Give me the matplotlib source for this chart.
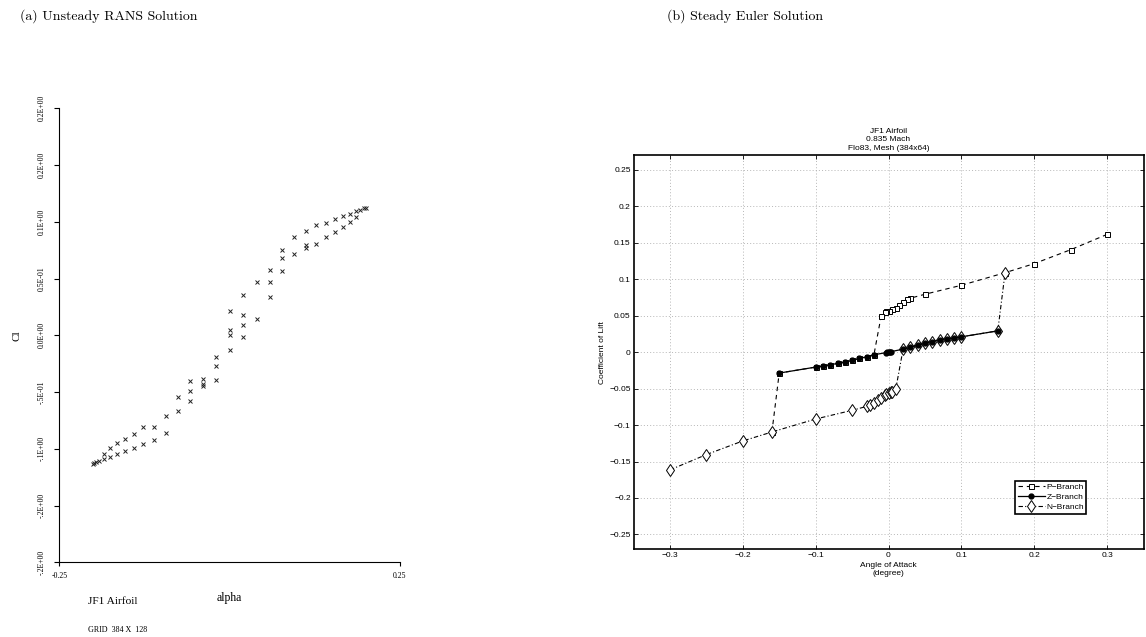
import matplotlib
matplotlib.use('Agg')
import matplotlib.pyplot as plt
from matplotlib.ticker import FuncFormatter

# (a) unsteady RANS, Cl vs alpha (hysteresis loop)
rans_alpha = [-0.201, -0.199, -0.196, -0.1912, -0.1843, -0.1843, -0.1759, -0.1759,
              -0.1656, -0.1656, -0.1534, -0.1534, -0.1406, -0.1406, -0.1265, -0.1265,
              -0.1103, -0.1103, -0.0931, -0.0931, -0.0759, -0.0759, -0.0574, -0.0574,
              -0.0574, -0.0382, -0.0382, -0.0382, -0.0191, -0.0191, -0.0191, 0.0006,
              0.0006, 0.0006, 0.0006, 0.0201, 0.0201, 0.0201, 0.0201, 0.0403, 0.0403,
              0.0588, 0.0588, 0.0588, 0.0775, 0.0775, 0.0775, 0.0951, 0.0951, 0.1118,
              0.1118, 0.1118, 0.1275, 0.1275, 0.1422, 0.1422, 0.1554, 0.1554, 0.1672,
              0.1672, 0.1775, 0.1775, 0.1863, 0.1863, 0.1922, 0.1971, 0.2010]
rans_cl = [-0.1130, -0.1124, -0.1115, -0.1106, -0.1047, -0.1094, -0.0991, -0.1071,
           -0.0950, -0.1047, -0.0915, -0.1018, -0.0871, -0.0991, -0.0809, -0.0962,
           -0.0809, -0.0921, -0.0712, -0.0862, -0.0544, -0.0665, -0.0403, -0.0491,
           -0.0579, -0.0383, -0.0432, -0.0447, -0.0191, -0.0271, -0.0394, 0.0214,
           0.0047, 0.0005, -0.0130, 0.0355, 0.0179, 0.0091, -0.0015, 0.0473, 0.0144,
           0.0576, 0.0470, 0.0338, 0.0752, 0.0679, 0.0564, 0.0870, 0.0714, 0.0922,
           0.0796, 0.0773, 0.0970, 0.0803, 0.0993, 0.0864, 0.1023, 0.0908, 0.1055,
           0.0953, 0.1073, 0.0997, 0.1094, 0.1041, 0.1105, 0.1120, 0.1125]
rans_yticks = [-0.2, -0.15, -0.1, -0.05, 0.0, 0.05, 0.1, 0.15, 0.2]
rans_ylabels = ['-.2E+00', '-.2E+00', '-.1E+00', '-.5E-01', '0.0E+00',
                '0.5E-01', '0.1E+00', '0.2E+00', '0.2E+00']

# (b) steady Euler, three branches
p_alpha = [0.3, 0.25, 0.2, 0.16, 0.1, 0.05, 0.03, 0.025, 0.02, 0.015, 0.01, 0.005,
           0.0, -0.003, -0.005, -0.01, -0.02, -0.03, -0.04, -0.05, -0.06, -0.07,
           -0.08, -0.09, -0.1, -0.15, -0.16]
p_cl = [0.1615, 0.1405, 0.1214, 0.109, 0.0917, 0.0794, 0.074, 0.0725, 0.069, 0.065,
        0.061, 0.059, 0.057, 0.056, 0.055, 0.050, -0.0036, -0.0064, -0.0087, -0.0114,
        -0.0137, -0.0155, -0.0173, -0.0192, -0.0205, -0.0287, -0.1095]

z_alpha = [-0.15, -0.1, -0.09, -0.08, -0.07, -0.06, -0.05, -0.04, -0.03, -0.02,
           -0.004, -0.002, 0.0, 0.002, 0.004, 0.02, 0.03, 0.04, 0.05, 0.06, 0.07,
           0.08, 0.09, 0.1, 0.15]
z_cl = [-0.0287, -0.0205, -0.0192, -0.0173, -0.0155, -0.0137, -0.0114, -0.0087,
        -0.0064, -0.0036, -0.0008, -0.0004, 0.0, 0.0004, 0.0008, 0.0041, 0.0068,
        0.0096, 0.0123, 0.0146, 0.0169, 0.0182, 0.0192, 0.021, 0.0292]

n_alpha = [-0.3, -0.25, -0.2, -0.16, -0.1, -0.05, -0.03, -0.025, -0.02, -0.015, -0.01,
           -0.005, -0.003, 0.0, 0.003, 0.005, 0.01, 0.02, 0.03, 0.04, 0.05, 0.06,
           0.07, 0.08, 0.09, 0.1, 0.15, 0.16]
n_cl = [-0.1615, -0.1405, -0.1218, -0.1095, -0.0917, -0.0798, -0.0744, -0.0725,
        -0.0698, -0.066, -0.063, -0.059, -0.0575, -0.056, -0.055, -0.054, -0.0506,
        0.0041, 0.0068, 0.0096, 0.0123, 0.0146, 0.0169, 0.0182, 0.0192, 0.021,
        0.0292, 0.109]

W, H = 1146, 637
fig = plt.figure(figsize=(W / 100, H / 100), dpi=100)

def box(l, t, r, b):
    return [l / W, 1 - b / H, (r - l) / W, (b - t) / H]

# captions
fig.text(20 / W, 1 - 16 / H, '(a) Unsteady RANS Solution', family='cmr10', fontsize=10, va='center')
fig.text(667 / W, 1 - 16 / H, '(b) Steady Euler Solution', family='cmr10', fontsize=10, va='center')

# ---- left panel
serif = 'Liberation Serif'
ax1 = fig.add_axes(box(59.3, 108.3, 399.7, 562.3))
ax1.plot(rans_alpha, rans_cl, 'x', color='#222222', ms=3, mew=0.7)
ax1.set_xlim(-0.25, 0.25)
ax1.set_ylim(-0.2, 0.2)
for s in ['top', 'right']:
    ax1.spines[s].set_visible(False)
for s in ['left', 'bottom']:
    ax1.spines[s].set_linewidth(0.8)
ax1.set_yticks(rans_yticks)
ax1.set_yticklabels(rans_ylabels, rotation=90, va='center', family=serif, fontsize=5.6)
ax1.set_xticks([-0.25, 0.25])
ax1.set_xticklabels(['-0.25', '0.25'], family=serif, fontsize=5.6)
ax1.tick_params(axis='y', direction='out', length=3.6, width=0.8, pad=6.5)
ax1.tick_params(axis='x', direction='out', length=3, width=0.8, pad=4)
ax1.set_ylabel('Cl', family=serif, fontsize=8)
ax1.yaxis.set_label_coords(-0.112, 0.5)
fig.text(229 / W, 1 - 598 / H, 'alpha', family=serif, fontsize=8.5, ha='center', va='center')
fig.text(88 / W, 1 - 601 / H, 'JF1 Airfoil', family=serif, fontsize=8.2, va='center')
fig.text(88 / W, 1 - 630 / H, 'GRID  384 X  128', family=serif, fontsize=5.8, va='center')

# ---- right panel
sans = 'Liberation Sans'
ax2 = fig.add_axes(box(633.5, 155.3, 1143.5, 549))
ax2.plot(p_alpha, p_cl, color='k', lw=0.8, ls=(0, (4, 3.5)), marker='s', ms=3.6,
         mfc='white', mec='k', mew=0.7, label='P\u2212Branch')
ax2.plot(n_alpha, n_cl, color='k', lw=0.8, ls=(0, (4, 2, 1, 2)), marker='d', ms=6,
         mfc='white', mec='k', mew=0.7, label='N\u2212Branch')
ax2.plot(z_alpha, z_cl, color='k', lw=0.9, ls='-', marker='.', ms=7,
         mfc='k', mec='k', label='Z\u2212Branch')
ax2.set_xlim(-0.35, 0.35)
ax2.set_ylim(-0.27, 0.27)
ax2.set_xticks([-0.3, -0.2, -0.1, 0, 0.1, 0.2, 0.3])
ax2.set_yticks([-0.25, -0.2, -0.15, -0.1, -0.05, 0, 0.05, 0.1, 0.15, 0.2, 0.25])
fmt = FuncFormatter(lambda v, p: ('%g' % round(v, 3)).replace('-', '\u2212'))
ax2.xaxis.set_major_formatter(fmt)
ax2.yaxis.set_major_formatter(fmt)
ax2.grid(True, color='#a0a0a0', lw=0.5, ls=(0, (1.5, 3)))
ax2.tick_params(direction='in', length=3, width=0.6, top=True, right=True,
                labelsize=6, pad=2)
for lab in ax2.get_xticklabels() + ax2.get_yticklabels():
    lab.set_family(sans)
for s in ax2.spines.values():
    s.set_linewidth(1.2)
ax2.set_title('JF1 Airfoil\n0.835 Mach\nFlo83, Mesh (384x64)', family=sans,
              fontsize=6, linespacing=1.25, pad=4)
ax2.set_xlabel('Angle of Attack\n(degree)', family=sans, fontsize=6, linespacing=1.3, labelpad=2)
ax2.set_ylabel('Coefficient of Lift', family=sans, fontsize=6)
ax2.yaxis.set_label_coords(-0.053, 0.5)

h, l = ax2.get_legend_handles_labels()
order = [0, 2, 1]
leg = ax2.legend([h[i] for i in order], [l[i] for i in order], loc='upper right',
                 bbox_to_anchor=(0.888, 0.1727), prop={'family': sans, 'size': 6},
                 handlelength=3.2, handletextpad=0.2, borderpad=0.3, labelspacing=0.25,
                 borderaxespad=0, fancybox=False, framealpha=1, edgecolor='k')
leg.get_frame().set_linewidth(1.2)

fig.savefig('out.png', dpi=100)
